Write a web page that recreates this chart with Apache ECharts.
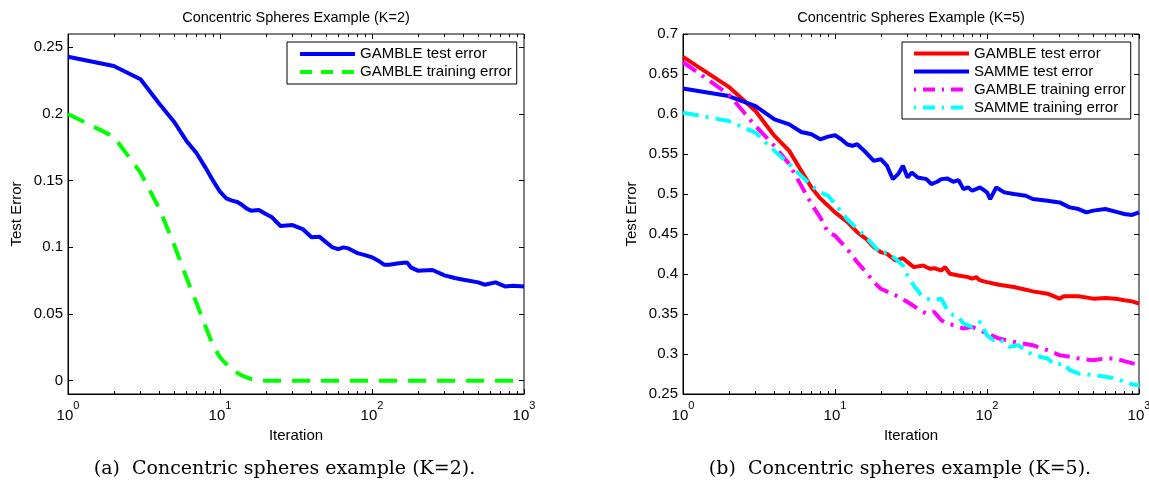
<!DOCTYPE html>
<html><head><meta charset="utf-8">
<script src="https://cdn.jsdelivr.net/npm/echarts@6/dist/echarts.min.js"></script>
<style>html,body{margin:0;padding:0;background:#fff}#c{width:1149px;height:480px}</style>
</head><body><div id="c"></div>
<script>
// ---------- data ----------
// Left panel (K=2)
const k2TestIter = [1,2,3,4,5,6,7,8,9,10,11,12,13,14,15,16,18,20,22,25,30,35,40,45,50,55,60,65,70,80,90,100,110,120,130,150,170,180,200,250,300,350,400,500,550,650,750,850,1000];
const k2GambleTest = [0.243,0.236,0.226,0.2075,0.194,0.18,0.1707,0.16,0.15,0.1417,0.1367,0.135,0.134,0.1317,0.129,0.1275,0.128,0.125,0.1225,0.116,0.1167,0.1137,0.1075,0.108,0.1037,0.1,0.0987,0.1,0.0992,0.0957,0.0942,0.0925,0.09,0.087,0.087,0.088,0.0887,0.085,0.0825,0.083,0.079,0.077,0.0757,0.0737,0.072,0.0737,0.0707,0.0712,0.0707];
const k2TrainIter = [1,2,3,4,5,6,7,8,9,10,11,12,14,16,18,30,100,1000];
const k2GambleTrain = [0.2,0.183,0.156,0.1287,0.1017,0.0775,0.0582,0.0412,0.0262,0.0175,0.0125,0.0082,0.0037,0.0012,0,0,0,0];

// Right panel (K=5)
const k5GambleTestIter = [1,2,3,4,5,6,7,8,9,10,12,14,16,18,20,22,25,28,30,33,38,42,45,50,53,57,65,75,80,85,90,100,120,150,180,200,250,300,320,400,500,600,700,800,900,1000];
const k5GambleTest = [0.6714,0.634,0.6037,0.5726,0.5539,0.529,0.5082,0.4945,0.4854,0.477,0.4655,0.4522,0.4439,0.4335,0.4273,0.4252,0.4169,0.4198,0.4148,0.4086,0.4107,0.4065,0.4073,0.4044,0.4086,0.4003,0.3982,0.3961,0.3941,0.3961,0.392,0.3899,0.3866,0.3837,0.3804,0.3783,0.3754,0.3692,0.3721,0.3721,0.3692,0.37,0.3692,0.3671,0.3658,0.3629];
const k5SammeTestIter = [1,2,3,4,5,6,7,8,9,10,11,12,13,14,16,18,20,22,24,26,28,30,32,35,40,43,47,50,55,60,65,70,75,80,90,100,105,115,130,150,180,200,250,300,350,400,450,500,600,700,800,900,1000];
const k5SammeTest = [0.6319,0.6224,0.6099,0.5933,0.5871,0.5775,0.5746,0.5684,0.5717,0.5734,0.5684,0.5622,0.5601,0.5622,0.5518,0.5414,0.5435,0.5352,0.5186,0.5248,0.5352,0.5207,0.5269,0.5207,0.5186,0.5124,0.5153,0.5186,0.5194,0.5153,0.5173,0.5061,0.5082,0.5041,0.5082,0.502,0.4937,0.5082,0.502,0.4999,0.4978,0.4937,0.4916,0.4895,0.4833,0.4812,0.4771,0.4792,0.4812,0.4779,0.475,0.4738,0.4771];
const k5GambleTrainIter = [1,2,3,4,5,6,7,8,9,10,12,14,16,18,20,25,30,35,40,45,50,55,60,70,80,100,120,150,200,250,300,350,400,500,600,700,800,1000];
const k5GambleTrain = [0.665,0.6244,0.585,0.56,0.5373,0.5103,0.4875,0.4708,0.4522,0.448,0.4314,0.4148,0.4024,0.3899,0.3816,0.3733,0.365,0.3567,0.3505,0.3526,0.3422,0.338,0.336,0.3318,0.3339,0.3256,0.3193,0.3152,0.311,0.3048,0.2986,0.2965,0.2944,0.2923,0.2944,0.2944,0.2911,0.2861];
const k5SammeTrainIter = [1,2,3,4,5,6,7,8,9,10,12,14,16,18,20,22,25,28,30,33,37,40,45,50,55,60,65,70,80,90,100,110,120,140,160,200,250,280,320,350,400,500,600,700,800,900,1000];
const k5SammeTrain = [0.6016,0.5912,0.5767,0.5539,0.5373,0.5227,0.5103,0.502,0.4978,0.4875,0.4688,0.4563,0.4459,0.4356,0.4252,0.4273,0.419,0.4107,0.3982,0.3857,0.3733,0.3691,0.3671,0.3691,0.3546,0.3484,0.3463,0.338,0.3339,0.3401,0.3235,0.3173,0.3193,0.3089,0.311,0.2986,0.2944,0.2861,0.2882,0.2799,0.2757,0.2737,0.2716,0.2695,0.2654,0.262,0.2612];

// tick values / labels
const xMajorTicks = [1,10,100,1000];
const xMinorTicks = [2,3,4,5,6,7,8,9,20,30,40,50,60,70,80,90,200,300,400,500,600,700,800,900];
const yTicksK2 = [0,0.05,0.1,0.15,0.2,0.25];
const yTicksK5 = [0.25,0.3,0.35,0.4,0.45,0.5,0.55,0.6,0.65,0.7];

const titles = ['Concentric Spheres Example (K=2)', 'Concentric Spheres Example (K=5)'];
const captions = ['(a)  Concentric spheres example (K=2).', '(b)  Concentric spheres example (K=5).'];

// ---------- chart ----------
const FONT = 'Liberation Sans, Arial, Helvetica, sans-serif';
const SERIF = 'DejaVu Serif, Liberation Serif, serif';
const zip = (xs, ys) => xs.map((x, i) => [x, ys[i]]);
const BLACK = '#000';

const grids = [
  {left: 68, top: 34, width: 456, height: 360},
  {left: 683, top: 34, width: 456, height: 360}
];

function xAxes(gi) {
  const base = {type: 'log', logBase: 10, min: 1, max: 1000, gridIndex: gi,
    axisLine: {show: false, onZero: false}, splitLine: {show: false},
    axisLabel: {show: false}, axisTick: {show: false}, silent: true};
  const tick = (len, vals) => ({show: true, inside: true, length: len, customValues: vals, lineStyle: {color: BLACK, width: 1}});
  return [
    Object.assign({}, base, {
      position: 'bottom',
      axisLine: {show: true, onZero: false, lineStyle: {color: BLACK, width: 1}},
      axisTick: tick(5, xMajorTicks),
      axisLabel: {show: true, customValues: xMajorTicks, margin: 6,
        formatter: v => '{b|10}{s|' + Math.round(Math.log10(v)) + '}',
        rich: {
          b: {fontSize: 15, fontFamily: FONT, color: BLACK, lineHeight: 23, verticalAlign: 'bottom'},
          s: {fontSize: 11, fontFamily: FONT, color: BLACK, verticalAlign: 'top'}
        }},
      name: 'Iteration', nameLocation: 'middle', nameGap: 34,
      nameTextStyle: {fontSize: 15, fontFamily: FONT, color: BLACK}
    }),
    Object.assign({}, base, {position: 'bottom', axisTick: tick(3, xMinorTicks)}),
    Object.assign({}, base, {position: 'top', axisTick: tick(5, xMajorTicks)}),
    Object.assign({}, base, {position: 'top', axisTick: tick(3, xMinorTicks)})
  ];
}

function yAxes(gi, min, max, ticks) {
  const tick = {show: true, inside: true, length: 5, customValues: ticks, lineStyle: {color: BLACK, width: 1}};
  return [
    {type: 'value', gridIndex: gi, min: min, max: max, position: 'left',
      axisLine: {show: true, onZero: false, lineStyle: {color: BLACK}},
      axisTick: tick, splitLine: {show: false},
      axisLabel: {show: true, customValues: ticks, margin: 5, fontSize: 15, fontFamily: FONT, color: BLACK,
        formatter: v => String(+(+v).toFixed(2))},
      name: 'Test Error', nameLocation: 'middle', nameGap: 44,
      nameTextStyle: {fontSize: 15, fontFamily: FONT, color: BLACK}},
    {type: 'value', gridIndex: gi, min: min, max: max, position: 'right',
      axisLine: {show: false, onZero: false}, axisTick: tick, splitLine: {show: false},
      axisLabel: {show: false}}
  ];
}

const DASH = [18, 11];
const DASHDOT = [16, 7, 3, 7];

function line(name, xi, yi, data, color, type) {
  return {type: 'line', name: name, xAxisIndex: xi, yAxisIndex: yi, data: data,
    symbol: 'none', showSymbol: false, animation: false, clip: true, silent: true,
    lineStyle: {color: color, width: 4, type: type}, itemStyle: {color: color}};
}

const series = [
  line('GAMBLE test error', 0, 0, zip(k2TestIter, k2GambleTest), '#0000ff', 'solid'),
  line('GAMBLE training error', 0, 0, zip(k2TrainIter, k2GambleTrain), '#00ff00', DASH),
  line('GAMBLE test error (K=5)', 4, 2, zip(k5GambleTestIter, k5GambleTest), '#ff0000', 'solid'),
  line('SAMME test error (K=5)', 4, 2, zip(k5SammeTestIter, k5SammeTest), '#0000ff', 'solid'),
  line('GAMBLE training error (K=5)', 4, 2, zip(k5GambleTrainIter, k5GambleTrain), '#ff00ff', DASHDOT),
  line('SAMME training error (K=5)', 4, 2, zip(k5SammeTrainIter, k5SammeTrain), '#00ffff', DASHDOT)
];

const legendBase = {orient: 'vertical', itemWidth: 55, itemHeight: 16, itemGap: 3,
  selectedMode: false, backgroundColor: '#fff', borderColor: BLACK, borderWidth: 1, borderRadius: 0,
  itemStyle: {opacity: 0, borderWidth: 0},
  lineStyle: {width: 4},
  textStyle: {fontSize: 15, fontFamily: FONT, color: BLACK},
  formatter: n => n.replace(' (K=5)', '')};

const option = {
  backgroundColor: '#fff',
  animation: false,
  grid: grids.map(g => Object.assign({show: true, borderColor: BLACK, borderWidth: 1, backgroundColor: 'transparent', containLabel: false, outerBoundsMode: 'none'}, g)),
  xAxis: xAxes(0).concat(xAxes(1)),
  yAxis: yAxes(0, -0.01, 0.26, yTicksK2).concat(yAxes(1, 0.25, 0.7, yTicksK5)),
  legend: [
    Object.assign({}, legendBase, {left: 287, top: 42, padding: [4.5, 5, 4.5, 11],
      data: [{name: 'GAMBLE test error', lineStyle: {width: 4}},
             {name: 'GAMBLE training error', lineStyle: {width: 4, type: [12, 9]}}]}),
    Object.assign({}, legendBase, {left: 902, top: 42, padding: [4, 5, 4, 10],
      data: [{name: 'GAMBLE test error (K=5)', lineStyle: {width: 4}},
             {name: 'SAMME test error (K=5)', lineStyle: {width: 4}},
             {name: 'GAMBLE training error (K=5)', lineStyle: {width: 4, type: [2, 7, 12, 7]}},
             {name: 'SAMME training error (K=5)', lineStyle: {width: 4, type: [2, 7, 12, 7]}}]})
  ],
  graphic: [
    {type: 'text', x: 296, y: 18, silent: true, style: {text: titles[0], fontSize: 14.5, fontFamily: FONT, fill: BLACK, align: 'center', verticalAlign: 'middle'}},
    {type: 'text', x: 911, y: 18, silent: true, style: {text: titles[1], fontSize: 14.5, fontFamily: FONT, fill: BLACK, align: 'center', verticalAlign: 'middle'}},
    {type: 'text', x: 284.5, y: 469, silent: true, style: {text: captions[0], fontSize: 19, fontFamily: SERIF, fill: BLACK, align: 'center', verticalAlign: 'middle'}},
    {type: 'text', x: 900, y: 469, silent: true, style: {text: captions[1], fontSize: 19, fontFamily: SERIF, fill: BLACK, align: 'center', verticalAlign: 'middle'}}
  ],
  series: series
};

const chart = echarts.init(document.getElementById('c'), null, {renderer: 'canvas'});
chart.setOption(option);
</script>
</body></html>
